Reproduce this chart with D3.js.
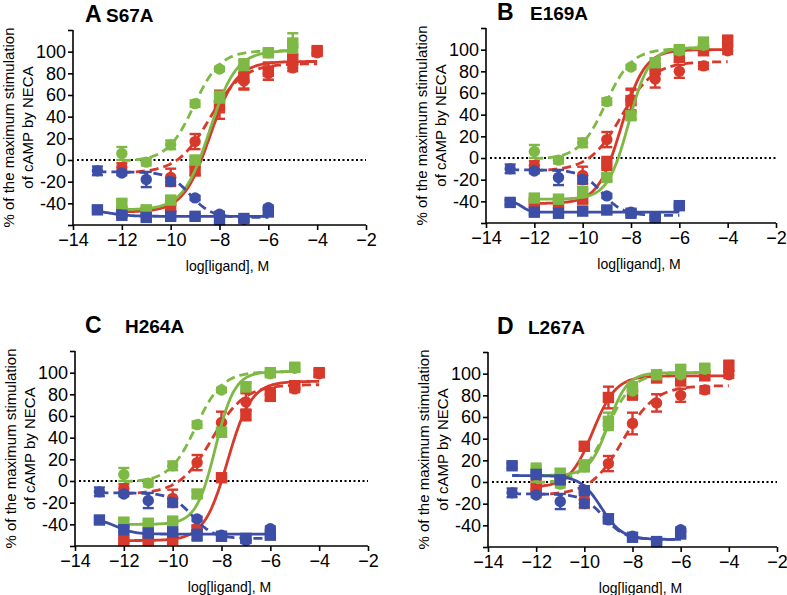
<!DOCTYPE html>
<html>
<head>
<meta charset="utf-8">
<script src="https://cdn.jsdelivr.net/npm/d3@7"></script>
<style>
  body { margin: 0; background: #fff; }
  svg { display: block; }
  text { font-family: "Liberation Sans", Arial, Helvetica, sans-serif; fill: #000; }
</style>
</head>
<body>
<svg id="fig" width="787" height="595"></svg>
<script>
// log concentrations shared by all series (null = no point)
const logConc = [-13, -12, -11, -10, -9, -8, -7, -6, -5, -4];

const panelLetters = ["A", "B", "C", "D"];
const mutantNames = ["S67A", "E169A", "H264A", "L267A"];

const xTickValues = [-14, -12, -10, -8, -6, -4, -2];
const yTickValues = [-60, -40, -20, 0, 20, 40, 60, 80, 100, 120];
const yTickLabels = [-40, -20, 0, 20, 40, 60, 80, 100];

// wild type (circles, dashed fits) - same in every panel
const wtRed = [null, -7, null, -16, 17, 54, 73, 80, 85, 99];
const wtRedErr = [null, 4, null, 8, 7, 10, 8, 6, 3, 3];
const wtGreen = [null, 6, -2, 14, 52, 84, null, 99, 104, null];
const wtGreenErr = [null, 6, 3, 4, 3, 2, null, 2, 3, null];
const wtBlue = [-10, -12, -18, -20, -35, -50, -55, -44, null, null];
const wtBlueErr = [4, 2, 7, 3, 2, 2, 2, 2, null, null];

// fits: [bottom, top, logEC50, hill]
const wtRedFit = [-12, 89, -8.4, 0.65];
const wtGreenFit = [-1, 101, -9.05, 0.8];
const wtBlueFit = [-53, -11, -9.2, -1.0];

// mutants (squares, solid fits), one row per panel
const mutRed = [
  [null, -48, -48, -44, -10, 50, 76, 82, 93, 101],
  [null, -41, -41, -38, -5, 53, 82, 93, 99, 108],
  [null, -55, -55, -54, -45, 3, 61, 79, 88, 100],
  [null, -4, 3, 33, 78, 81, 96, 94, 98, 107]
];
const mutRedErr = [
  [null, 2, 2, 3, 4, 12, 10, 8, 5, 3],
  [null, 2, 2, 3, 6, 10, 5, 4, 3, 5],
  [null, 2, 2, 2, 3, 3, 5, 5, 3, 3],
  [null, 5, 3, 3, 10, 5, 3, 5, 3, 5]
];
const mutGreen = [
  [null, -40, -46, -37, 0, 58, 88, 99, 108, null],
  [null, -37, -38, -31, -18, 39, 88, 100, 107, null],
  [null, -38, -39, -37, -12, 45, 87, 100, 105, null],
  [null, 11, 8, 15, 56, 88, 99, 104, 105, null]
];
const mutGreenErr = [
  [null, 3, 2, 3, 3, 5, 5, 3, 9, null],
  [null, 3, 2, 3, 3, 3, 4, 3, 3, null],
  [null, 3, 2, 2, 3, 4, 4, 2, 3, null],
  [null, 6, 4, 5, 8, 4, 3, 3, 3, null]
];
const mutBlue = [
  [-46, -51, -53, -52, -52, -55, -54, -48, null, null],
  [-41, -50, -51, -49, -48, -51, -55, -44, null, null],
  [-36, -45, -48, -47, -50, -51, -53, -50, null, null],
  [15, 7, 2, -8, -34, -51, -55, -48, null, null]
];
const mutBlueErr = [
  [2, 2, 2, 2, 2, 2, 2, 2, null, null],
  [2, 2, 2, 2, 2, 2, 2, 2, null, null],
  [2, 2, 2, 2, 5, 2, 2, 2, null, null],
  [2, 2, 2, 2, 4, 2, 2, 2, null, null]
];
const mutRedFit = [[-48, 91, -8.4, 0.8], [-42, 100, -8.4, 0.9], [-55, 92, -7.75, 0.9], [-5, 98, -9.65, 0.9]];
const mutGreenFit = [[-46, 101, -8.4, 0.8], [-38, 102, -8.1, 1.0], [-40, 101, -8.25, 1.1], [6, 101, -9.0, 1.1]];
const mutBlueFit = [[-52, -46, -12.5, -1.0], [-50, -40, -12.5, -2.5], [-49, -35, -12.3, -1.2], [-53, 6, -9.3, -1.0]];

const RED = "#d7392b", GREEN = "#7db944", BLUE = "#3c4ea6";

// layout: [left, top, title baseline above plot, letter x, name x, plot width]
const panelPos = [[73, 30, 8, 12, 33, 293], [486, 28, 8, 11, 44, 290], [75, 351, 18, 10, 50, 293], [488, 352, 18, 9, 40, 289]];
const plotH = 195;

const svg = d3.select("#fig");

const hill = (f, x) => f[0] + (f[1] - f[0]) / (1 + Math.pow(10, (f[2] - x) * f[3]));

panelPos.forEach((pos, i) => {
  const plotW = pos[5];
  const g = svg.append("g").attr("transform", `translate(${pos[0]},${pos[1]})`);

  const x = d3.scaleLinear().domain([-14, -2]).range([0, plotW]);
  const y = d3.scaleLinear().domain([-60, 120]).range([plotH, 0]);

  // title
  g.append("text").attr("x", pos[3]).attr("y", -pos[2])
    .style("font-weight", "bold").style("font-size", "23px").text(panelLetters[i]);
  g.append("text").attr("x", pos[4]).attr("y", -pos[2])
    .style("font-weight", "bold").style("font-size", "19px").text(mutantNames[i]);

  // zero line
  g.append("line")
    .attr("x1", x(-14) + 4).attr("x2", x(-2))
    .attr("y1", y(0)).attr("y2", y(0))
    .attr("stroke", "#000").attr("stroke-width", 2.2)
    .attr("stroke-dasharray", "2,2.5");

  const series = [
    { c: RED, sq: true, v: mutRed[i], e: mutRedErr[i], f: mutRedFit[i] },
    { c: RED, sq: false, v: wtRed, e: wtRedErr, f: wtRedFit },
    { c: GREEN, sq: true, v: mutGreen[i], e: mutGreenErr[i], f: mutGreenFit[i] },
    { c: GREEN, sq: false, v: wtGreen, e: wtGreenErr, f: wtGreenFit },
    { c: BLUE, sq: false, v: wtBlue, e: wtBlueErr, f: wtBlueFit },
    { c: BLUE, sq: true, v: mutBlue[i], e: mutBlueErr[i], f: mutBlueFit[i] }
  ];

  series.forEach(s => {
    const pts = logConc.map((c, k) => ({ c: c, v: s.v[k], e: s.e[k] })).filter(p => p.v != null);
    const xs = d3.extent(pts, p => p.c);
    const curve = d3.range(xs[0], xs[1] + 0.001, 0.05).map(c => [c, hill(s.f, c)]);

    g.append("path").datum(curve)
      .attr("d", d3.line().x(d => x(d[0])).y(d => y(d[1])))
      .attr("fill", "none").attr("stroke", s.c).attr("stroke-width", 2.8)
      .attr("stroke-dasharray", s.sq ? null : "9,5");

    const eb = g.append("g").attr("stroke", s.c).attr("stroke-width", 2.4);
    pts.forEach(p => {
      eb.append("line").attr("x1", x(p.c)).attr("x2", x(p.c))
        .attr("y1", y(p.v - p.e)).attr("y2", y(p.v + p.e));
      [p.v - p.e, p.v + p.e].forEach(t => {
        eb.append("line").attr("x1", x(p.c) - 5.5).attr("x2", x(p.c) + 5.5)
          .attr("y1", y(t)).attr("y2", y(t));
      });
    });

    if (s.sq) {
      g.selectAll(null).data(pts).enter().append("rect")
        .attr("x", p => x(p.c) - 5.7).attr("y", p => y(p.v) - 5.7)
        .attr("width", 11.4).attr("height", 11.4).attr("fill", s.c);
    } else {
      g.selectAll(null).data(pts).enter().append("circle")
        .attr("cx", p => x(p.c)).attr("cy", p => y(p.v))
        .attr("r", 5.7).attr("fill", s.c);
    }
  });

  // axes
  const xAxis = g.append("g").attr("transform", `translate(0,${plotH})`)
    .call(d3.axisBottom(x).tickValues(xTickValues).tickSize(5).tickPadding(3));
  const yAxis = g.append("g")
    .call(d3.axisLeft(y).tickValues(yTickValues).tickSize(5).tickPadding(2)
      .tickFormat(d => yTickLabels.includes(d) ? d : ""));
  [xAxis, yAxis].forEach(a => {
    a.selectAll("path, line").attr("stroke", "#000").attr("stroke-width", 1.6);
    a.selectAll("text").style("font-size", "18px").attr("fill", "#000");
    a.select(".domain").attr("d", a === xAxis ? `M0,0H${plotW}` : `M0,0V${plotH}`);
  });

  // axis labels
  g.append("text").attr("x", plotW / 2 + 8).attr("y", plotH + 46)
    .attr("text-anchor", "middle").style("font-size", "14px").text("log[ligand], M");
  const yl = g.append("g").attr("transform", `translate(0,${plotH / 2}) rotate(-90)`);
  yl.append("text").attr("y", -64).attr("dy", "0.35em").attr("text-anchor", "middle")
    .style("font-size", "15px").text("% of the maximum stimulation");
  yl.append("text").attr("y", -45).attr("dy", "0.35em").attr("text-anchor", "middle")
    .style("font-size", "15px").text("of cAMP by NECA");
});
</script>
</body>
</html>
